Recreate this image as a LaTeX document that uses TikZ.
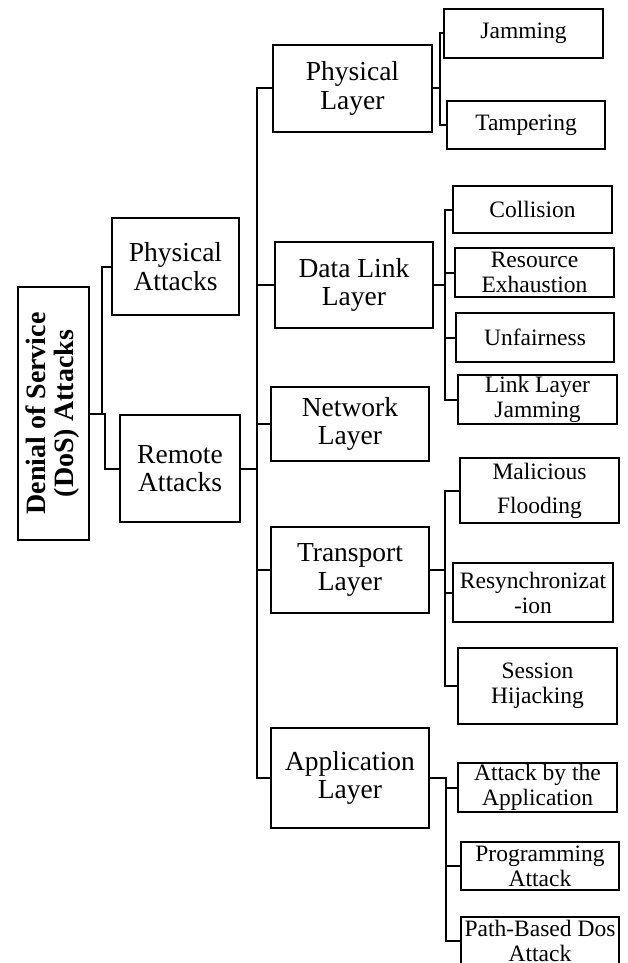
\documentclass[tikz,border=0pt]{standalone}
\usepackage{fontspec}
\setmainfont{Liberation Serif}
\usepackage{graphicx}

\begin{document}
\begin{tikzpicture}[x=1pt, y=-1pt,
    box/.style={draw, line width=2pt, align=center, inner sep=0pt, font=\fontsize{27.5}{28.5}\selectfont},
    leaf/.style={draw, line width=2pt, align=center, inner sep=0pt, minimum width=159pt, minimum height=49pt, font=\fontsize{23.5}{25}\selectfont},
    link/.style={line width=2pt}]
    \clip (0,0) rectangle (628,963);
    \node[box, minimum width=71pt, minimum height=253pt] (root) at (53.5,413.5) {\rotatebox{90}{\fontsize{28}{27}\selectfont\bfseries\begin{tabular}{@{}c@{}}Denial of Service\\(DoS) Attacks\end{tabular}}};
    \node[box, minimum width=127pt, minimum height=97pt] (pa) at (175.5,266.5) {Physical\\Attacks};
    \node[box, minimum width=120pt, minimum height=107pt] (ra) at (180,468.5) {Remote\\Attacks};
    \node[box, minimum width=159pt, minimum height=87pt] (phy) at (352.5,88.5) {Physical\\Layer};
    \node[box, minimum width=158pt, minimum height=86pt] (dll) at (354,285) {Data Link\\Layer};
    \node[box, minimum width=158pt, minimum height=74pt] (net) at (350,424) {Network\\Layer};
    \node[box, minimum width=158pt, minimum height=86pt] (tra) at (350,570) {Transport\\Layer};
    \node[box, minimum width=158pt, minimum height=100pt] (app) at (350,778) {Application\\Layer};
    \node[leaf] (jam) at (523.5,33.5) {Jamming};
    \node[leaf, minimum width=158pt, minimum height=48pt] (tam) at (526,125) {Tampering};
    \node[leaf, minimum height=47pt] (col) at (532.5,209.5) {Collision};
    \node[leaf] (res) at (534.5,272.5) {Resource\\Exhaustion};
    \node[leaf, minimum width=158pt] (unf) at (535,337.5) {Unfairness};
    \node[leaf] (llj) at (537.5,399.5) {Link Layer\\Jamming};
    \node[leaf, minimum height=65pt] (mal) at (539.5,490.5) {Malicious\\[9pt]Flooding};
    \node[leaf, minimum width=160pt, minimum height=59pt] (rsy) at (533,592.5) {Resynchronizat\\-ion};
    \node[leaf, minimum height=76pt] (ses) at (537.5,686) {Session\\Hijacking};
    \node[leaf] (abt) at (537.5,787.5) {Attack by the\\Application};
    \node[leaf, minimum width=158pt, minimum height=48pt] (prg) at (540,866) {Programming\\Attack};
    \node[leaf, minimum width=158pt, minimum height=48pt] (pbd) at (540,941) {Path-Based Dos\\Attack};
    \draw[link] (root.east) -- ++(15,0) coordinate (rootj) |- (ra.west);
    \draw[link] (rootj) ++(-3,0) |- (pa.west);
    \draw[link] (ra.east) -- ++(16,0) coordinate (spine) |- (phy.west);
    \draw[link] (spine) |- (dll.west);
    \draw[link] (spine) |- (net.west);
    \draw[link] (spine) |- (tra.west);
    \draw[link] (spine) |- (app.west);
    \draw[link] (phy.east) -- ++(7,0) coordinate (phyj) |- (jam.west);
    \draw[link] (phyj) |- (tam.west);
    \draw[link] (dll.east) -- ++(11,0) coordinate (dllj) |- (col.west);
    \draw[link] (dllj) |- (res.west);
    \draw[link] (dllj) |- (unf.west);
    \draw[link] (dllj) |- (llj.west);
    \draw[link] (tra.east) -- ++(15,0) coordinate (traj) |- (mal.west);
    \draw[link] (traj) |- (rsy.west);
    \draw[link] (traj) |- (ses.west);
    \draw[link] (app.east) -- ++(16,0) coordinate (appj) |- (abt.west);
    \draw[link] (appj) |- (prg.west);
    \draw[link] (appj) |- (pbd.west);
\end{tikzpicture}
\end{document}
